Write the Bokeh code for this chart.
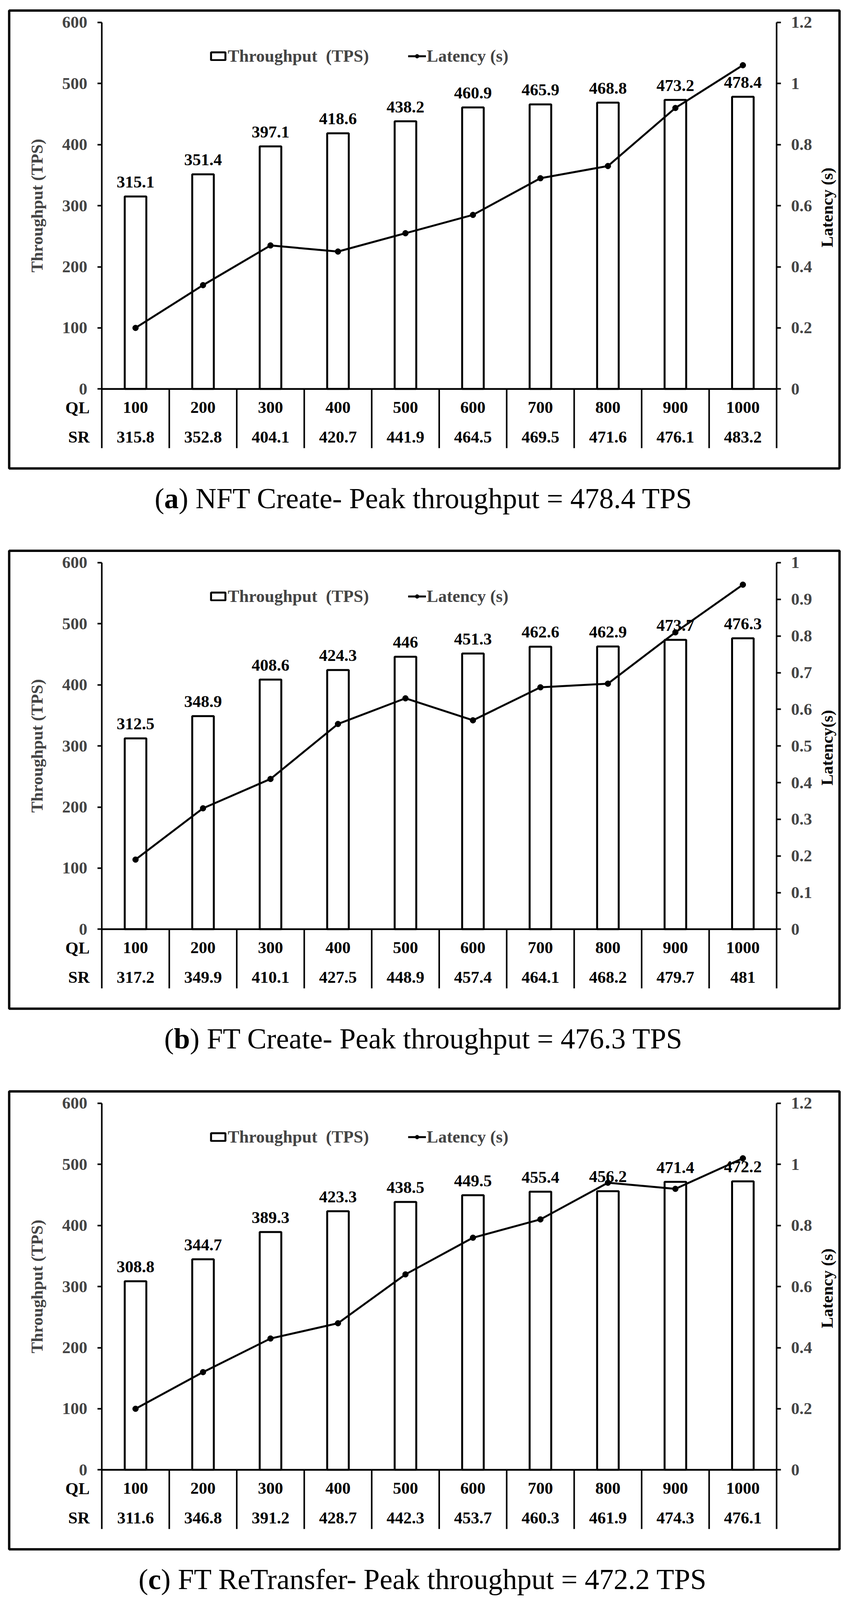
import math
from bokeh.plotting import figure
from bokeh.models import (ColumnDataSource, Range1d, LinearAxis, FixedTicker,
                          CustomJSTickFormatter, Label, BoxAnnotation,
                          Legend, LegendItem)
from bokeh.layouts import column
from bokeh.embed import file_html
from bokeh.resources import INLINE
from bokeh.core.properties import value

# ---------------- data ----------------
QL = [100, 200, 300, 400, 500, 600, 700, 800, 900, 1000]

TPS_A = [315.1, 351.4, 397.1, 418.6, 438.2, 460.9, 465.9, 468.8, 473.2, 478.4]
SR_A = [315.8, 352.8, 404.1, 420.7, 441.9, 464.5, 469.5, 471.6, 476.1, 483.2]
LAT_A = [0.20, 0.34, 0.47, 0.45, 0.51, 0.57, 0.69, 0.73, 0.92, 1.06]

TPS_B = [312.5, 348.9, 408.6, 424.3, 446, 451.3, 462.6, 462.9, 473.7, 476.3]
SR_B = [317.2, 349.9, 410.1, 427.5, 448.9, 457.4, 464.1, 468.2, 479.7, 481]
LAT_B = [0.19, 0.33, 0.41, 0.56, 0.63, 0.57, 0.66, 0.67, 0.81, 0.94]

TPS_C = [308.8, 344.7, 389.3, 423.3, 438.5, 449.5, 455.4, 456.2, 471.4, 472.2]
SR_C = [311.6, 346.8, 391.2, 428.7, 442.3, 453.7, 460.3, 461.9, 474.3, 476.1]
LAT_C = [0.20, 0.32, 0.43, 0.48, 0.64, 0.76, 0.82, 0.94, 0.92, 1.02]

TPS_TICKS = [0, 100, 200, 300, 400, 500, 600]
LAT_TICKS_A = [0, 0.2, 0.4, 0.6, 0.8, 1.0, 1.2]
LAT_TICKS_B = [0, 0.1, 0.2, 0.3, 0.4, 0.5, 0.6, 0.7, 0.8, 0.9, 1.0]
LAT_TICKS_C = [0, 0.2, 0.4, 0.6, 0.8, 1.0, 1.2]

LEFT_TITLE = "Throughput (TPS)"
RIGHT_TITLE_A = "Latency (s)"
RIGHT_TITLE_B = "Latency(s)"
RIGHT_TITLE_C = "Latency (s)"
LEGEND_BAR = "Throughput  (TPS)"
LEGEND_LINE = "Latency (s)"
ROW_LABELS = ["QL", "SR"]
CAP_A = ("a", "NFT Create- Peak throughput = 478.4 TPS")
CAP_B = ("b", "FT Create- Peak throughput = 476.3 TPS")
CAP_C = ("c", "FT ReTransfer- Peak throughput = 472.2 TPS")

# ---------------- layout (canvas pixels) ----------------
SY = 0.9826                 # vertical fit factor for the visible page
W = 2160
H_PANEL = [1383, 1384, 1330]
AX_L, AX_R = 260, 1987      # left / right axis positions
Y600 = 58 * SY              # pixel of the top tick
Y0 = 1013 * SY              # pixel of zero
BORDER = (23, 2148, 27 * SY, 1220 * SY)
QL_MID = Y0 + 48 * SY
SR_MID = Y0 + 125 * SY
TABLE_BOT = Y0 + 154 * SY
ROWLAB_R = 229
CAP_Y = 1298 * SY
LEG_Y = 172 * SY
RT_X, RT_Y = 2116, 540 * SY
FONT = "Liberation Serif"
FS = "43px"

XPU = (AX_R - AX_L) / 10.0
YPU = (Y0 - Y600) / 600.0


def xd(px):
    return 0.5 + (px - AX_L) / XPU


def yd(py):
    return 600 - (py - Y600) / YPU


TW = {" ": 250, "(": 333, ")": 333, "-": 333, ".": 250, "=": 564, "C": 667,
      "F": 556, "N": 722, "P": 556, "R": 667, "S": 556, "T": 611, "a": 444,
      "e": 444, "f": 333, "g": 500, "h": 500, "k": 500, "n": 500, "o": 500,
      "p": 500, "r": 333, "s": 389, "t": 278, "u": 500}
BW = {"a": 500, "b": 556, "c": 444}


def twidth(s, size):
    return sum(TW.get(ch, 500) for ch in s) / 1000.0 * size


def make_panel(tps, sr, lat, lat_ticks, right_title, cap, height):
    lmax = lat_ticks[-1]
    y0d, y1d = yd(height), yd(0)
    p = figure(width=W, height=height, x_range=Range1d(xd(0), xd(W)),
               y_range=Range1d(y0d, y1d), toolbar_location=None,
               output_backend="svg", x_axis_location=None, y_axis_location=None,
               min_border=0)
    p.outline_line_color = None
    p.grid.visible = False
    p.background_fill_color = "white"
    p.border_fill_color = "white"
    p.extra_y_ranges = {"lat": Range1d(y0d / 600.0 * lmax, y1d / 600.0 * lmax)}

    # axes (fixed at the plot-area edges)
    la = LinearAxis(ticker=FixedTicker(ticks=TPS_TICKS), bounds=(0, 600),
                    axis_label=LEFT_TITLE, fixed_location=0.5)
    ra = LinearAxis(y_range_name="lat", ticker=FixedTicker(ticks=lat_ticks),
                    bounds=(0, lmax), fixed_location=10.5,
                    formatter=CustomJSTickFormatter(
                        code="return String(Math.round(tick*10)/10)"))
    for ax in (la, ra):
        ax.axis_line_width = 4
        ax.major_tick_line_width = 4
        ax.major_tick_out = 11
        ax.major_tick_in = 0
        ax.minor_tick_line_color = None
        ax.major_label_text_font = FONT
        ax.major_label_text_font_style = "bold"
        ax.major_label_text_font_size = FS
        ax.major_label_standoff = 26
        ax.axis_label_text_font = FONT
        ax.axis_label_text_font_style = "bold"
        ax.axis_label_text_font_size = FS
    la.axis_label_standoff = 38
    p.add_layout(la, "left")
    p.add_layout(ra, "right")
    # secondary axis title, reading bottom-to-top
    p.add_layout(Label(x=xd(RT_X), y=yd(RT_Y), text=right_title,
                       angle=math.pi / 2, text_align="center",
                       text_baseline="middle", text_font=FONT,
                       text_font_style="bold", text_font_size=FS,
                       text_color="black"))

    idx = list(range(1, 11))
    src = ColumnDataSource(dict(
        x=idx, tps=tps, lat=lat,
        tlab=[f"{v:g}" for v in tps],
        yq=[yd(QL_MID)] * 10, ys=[yd(SR_MID)] * 10,
        ql=[str(v) for v in QL],
        sr=[f"{v:g}" for v in sr]))

    bars = p.vbar(x="x", top="tps", width=0.32, bottom=0, source=src,
                  fill_color="white", line_color="black", line_width=5)
    line = p.line(x="x", y="lat", source=src, y_range_name="lat",
                  line_color="black", line_width=5)
    pts = p.scatter(x="x", y="lat", source=src, y_range_name="lat", size=15,
                    fill_color="black", line_color="black")

    p.text(x="x", y="tps", text="tlab", source=src, text_align="center",
           text_baseline="middle", y_offset=-37,
           text_font=value(FONT), text_font_style="bold", text_font_size=FS,
           text_color="black")

    # zero line and table grid
    p.segment(x0=[0.5], y0=[0], x1=[10.5], y1=[0], line_color="black",
              line_width=4.5)
    bx = [i + 0.5 for i in range(0, 11)]
    p.segment(x0=bx, y0=[0] * 11, x1=bx, y1=[yd(TABLE_BOT)] * 11,
              line_color="black", line_width=4)
    for col, ycol in (("ql", "yq"), ("sr", "ys")):
        p.text(x="x", y=ycol, text=col, source=src, text_align="center",
               text_baseline="middle", text_font=value(FONT),
               text_font_style="bold", text_font_size=FS, text_color="black")
    for lab, mid in zip(ROW_LABELS, (QL_MID, SR_MID)):
        p.add_layout(Label(x=xd(ROWLAB_R), y=yd(mid), text=lab,
                           text_align="right", text_baseline="middle",
                           text_font=FONT, text_font_style="bold",
                           text_font_size=FS, text_color="black"))

    # legend
    leg = Legend(items=[LegendItem(label=LEGEND_BAR, renderers=[bars]),
                        LegendItem(label=LEGEND_LINE, renderers=[line, pts])],
                 orientation="horizontal", location=(535, height - LEG_Y),
                 border_line_color=None, background_fill_alpha=0,
                 label_text_font=FONT, label_text_font_style="bold",
                 label_text_font_size="44px", label_text_baseline="middle",
                 glyph_width=46, glyph_height=25, spacing=100, padding=0,
                 margin=0, label_standoff=2, label_height=50)
    p.add_layout(leg)

    # outer border
    bl, br, bt, bb = BORDER
    p.add_layout(BoxAnnotation(left=xd(bl), right=xd(br), top=yd(bt),
                               bottom=yd(bb), fill_alpha=0,
                               line_color="black", line_width=6,
                               line_alpha=1))

    # caption
    cs = 74
    letter, rest = cap
    rest = ") " + rest
    total = 0.333 * cs + BW[letter] / 1000.0 * cs + twidth(rest, cs)
    x0 = 1084 - total / 2.0
    parts = [("(", x0, "normal"),
             (letter, x0 + 0.333 * cs, "bold"),
             (rest, x0 + 0.333 * cs + BW[letter] / 1000.0 * cs, "normal")]
    for txt, px, style in parts:
        p.add_layout(Label(x=xd(px), y=yd(CAP_Y), text=txt, text_align="left",
                           text_baseline="middle", text_font=FONT,
                           text_font_style=style, text_font_size=f"{cs}px",
                           text_color="black"))
    return p


pa = make_panel(TPS_A, SR_A, LAT_A, LAT_TICKS_A, RIGHT_TITLE_A, CAP_A, H_PANEL[0])
pb = make_panel(TPS_B, SR_B, LAT_B, LAT_TICKS_B, RIGHT_TITLE_B, CAP_B, H_PANEL[1])
pc = make_panel(TPS_C, SR_C, LAT_C, LAT_TICKS_C, RIGHT_TITLE_C, CAP_C, H_PANEL[2])

layout = column(pa, pb, pc, spacing=0)
open("out.html", "w").write(file_html(layout, INLINE))
